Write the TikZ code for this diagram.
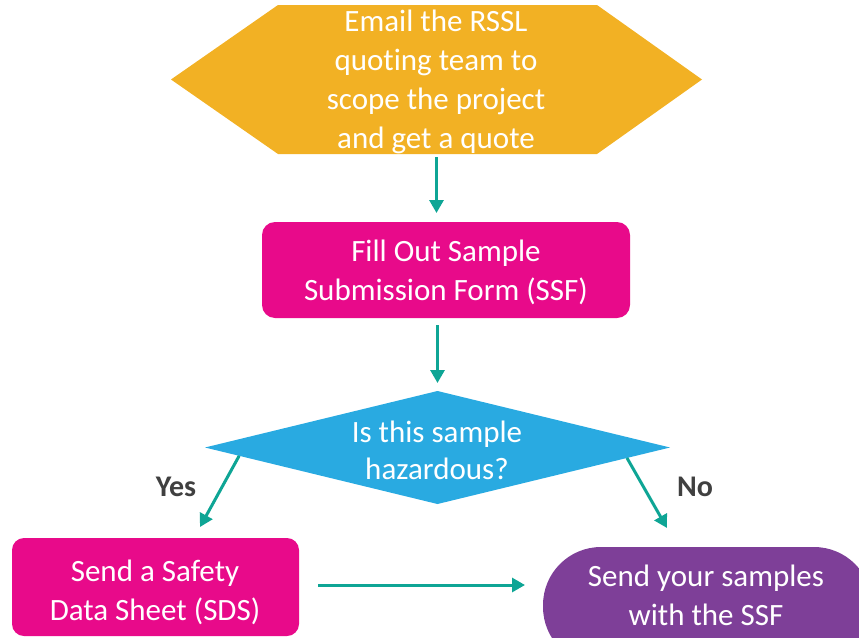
\documentclass[tikz,border=0pt]{standalone}
\usepackage{fontspec}
\setmainfont{Carlito}[Ligatures=NoCommon]
\usetikzlibrary{arrows.meta,calc}
\definecolor{hexorange}{HTML}{F2B124}
\definecolor{mypink}{HTML}{E80A8A}
\definecolor{myblue}{HTML}{29AAE1}
\definecolor{mypurple}{HTML}{7E3F98}
\definecolor{myteal}{HTML}{0EA595}
\definecolor{lblgray}{HTML}{404040}
\begin{document}
\begin{tikzpicture}[x=1pt,y=-1pt,
  txt/.style={text=white, font=\fontsize{31}{39}\selectfont, align=center, inner sep=0pt},
  frame/.style={inner sep=0pt, outer sep=0pt},
  arr/.style={draw=myteal, line width=3pt, -{Triangle[length=13pt,width=14pt]}},
  lbl/.style={text=lblgray, font=\fontsize{30}{36}\selectfont\bfseries, inner sep=0pt}]
\useasboundingbox (0,0) rectangle (859,637);

% hexagon
\node[frame, minimum width=531pt, minimum height=149pt] (email) at (436.5,79.5) {};
\fill[hexorange] (email.west) -- ([xshift=107pt]email.north west) -- ([xshift=-105pt]email.north east)
  -- (email.east) -- ([xshift=-105pt]email.south east) -- ([xshift=107pt]email.south west) -- cycle;
\node[txt] (emailtxt) at (436,81.5) {Email the RSSL\\quoting team to\\scope the project\\and get a quote};

% SSF box
\node[frame, fill=mypink, rounded corners=13pt, minimum width=368pt, minimum height=96pt] (ssf) at (446,270) {};
\node[txt] (ssftxt) at (446,272.5) {Fill Out Sample\\Submission Form (SSF)};

% diamond
\node[frame, minimum width=465pt, minimum height=113pt] (haz) at (437.5,447.5) {};
\fill[myblue] (haz.north) -- (haz.east) -- (haz.south) -- (haz.west) -- cycle;
\node[txt, font=\fontsize{31}{37}\selectfont] (haztxt) at (437,450) {Is this sample\\hazardous?};

% SDS box
\node[frame, fill=mypink, rounded corners=12pt, minimum width=287pt, minimum height=98pt] (sds) at (155.5,587) {};
\node[txt] (sdstxt) at (155,592.5) {Send a Safety\\Data Sheet (SDS)};

% send box (cut by the picture edge)
\begin{scope}
\clip (0,0) rectangle (859,637);
\node[frame, fill=mypurple, rounded corners=58pt, minimum width=329pt, minimum height=118pt] (send) at (707.5,606) {};
\end{scope}
\node[txt] (sendtxt) at (706,595) {Send your samples\\with the SSF};

% labels
\node[lbl] (yes) at (176,487) {Yes};
\node[lbl] (no) at (695,487) {No};

% connectors
\coordinate (yesend) at (200,527);
\coordinate (noend) at (667,528);
\draw[arr, shorten <=3pt, shorten >=9pt] (email.south) -- (email.south |- ssf.north);
\draw[arr, shorten <=7pt, shorten >=8pt] (haz.north |- ssf.south) -- (haz.north);
\draw[arr] ($(haz.west)!0.147!(haz.south)$) -- (yesend);
\draw[arr] ($(haz.east)!0.185!(haz.south)$) -- (noend);
\path (sds.east) ++(19,-2) coordinate (hstart);
\draw[arr, shorten >=18pt] (hstart) -- (hstart -| send.west);
\end{tikzpicture}
\end{document}
